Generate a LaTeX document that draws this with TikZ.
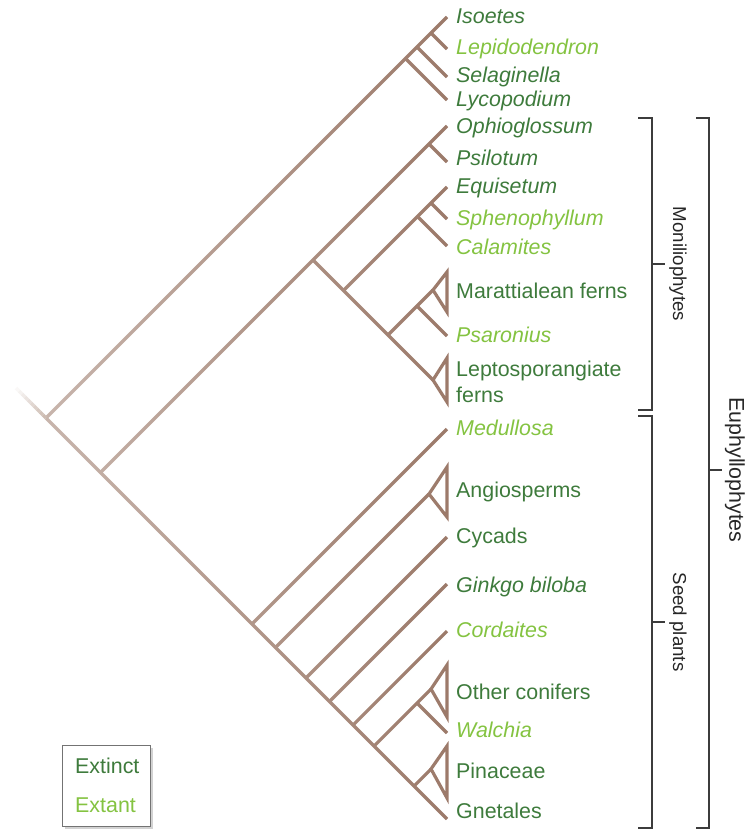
\documentclass[tikz,border=0pt]{standalone}
\usepackage{fontspec}
\setmainfont{Liberation Sans}
\usetikzlibrary{calc,fadings,shadows}
\definecolor{branch}{HTML}{9C7A6A}
\definecolor{branchL}{HTML}{CDBCB2}
\definecolor{extinct}{HTML}{3E7B3C}
\definecolor{extant}{HTML}{84C341}
\definecolor{brace}{HTML}{3C3C3C}
\tikzfading[name=rootfade, left color=transparent!50, right color=transparent!100]

\begin{document}
\begin{tikzpicture}[x=1pt, y=-1pt,
  br/.style={draw=branch, line width=3.2pt},
  lab/.style={anchor=base west, inner sep=0pt, font=\fontsize{21.4}{26}\selectfont},
  ext/.style={lab, text=extinct},
  exa/.style={lab, text=extant},
  grp/.style={rotate=-90, inner sep=0pt, text=black!85, font=\fontsize{18.7}{22}\selectfont},
  brk/.style={draw=brace, line width=1.2pt}]
\useasboundingbox (0,0) rectangle (745,833);

\coordinate (R0) at (16,388);
\coordinate (R) at (46,418);
\coordinate (E) at (100.5,472.5);
\coordinate (Tiso) at (447,17);
\coordinate (Clep) at (431,33);
\coordinate (Tlep) at (447,49);
\coordinate (Csel) at (417,47);
\coordinate (Tsel) at (447,77);
\coordinate (Clyc) at (405.5,58.5);
\coordinate (Tlyc) at (447,100);
\coordinate (Toph) at (447,126);
\coordinate (Cpsi) at (429,144);
\coordinate (Tpsi) at (447,162);
\coordinate (M) at (313,260);
\coordinate (Q) at (343.5,290.5);
\coordinate (Tequ) at (447,187);
\coordinate (Csph) at (431,203);
\coordinate (Tsph) at (447,219);
\coordinate (Ccal) at (417.5,216.5);
\coordinate (Tcal) at (447,246);
\coordinate (K) at (388,335);
\coordinate (Amar) at (433,290);
\coordinate (Umar) at (447,272);
\coordinate (Dmar) at (447,312);
\coordinate (Cpsa) at (417,306);
\coordinate (Tpsa) at (447,336);
\coordinate (Alep) at (433,380);
\coordinate (Ulep) at (447,358);
\coordinate (Dlep) at (447,402);
\coordinate (S1) at (252,624);
\coordinate (Tmed) at (447,429);
\coordinate (S2) at (275.5,647.5);
\coordinate (Aang) at (429,494);
\coordinate (Uang) at (447,467);
\coordinate (Dang) at (447,517);
\coordinate (S3) at (306,678);
\coordinate (Tcyc) at (447,537);
\coordinate (S4) at (329.5,701.5);
\coordinate (Tgin) at (447,584);
\coordinate (S5) at (353,725);
\coordinate (Tcor) at (447,631);
\coordinate (S6) at (374,746);
\coordinate (Aoth) at (431,689);
\coordinate (Uoth) at (447,665);
\coordinate (Doth) at (447,717);
\coordinate (Cwal) at (417,703);
\coordinate (Twal) at (447,733);
\coordinate (S7) at (414,786);
\coordinate (Apin) at (431,769);
\coordinate (Upin) at (447,746);
\coordinate (Dpin) at (447,798);
\coordinate (Tgne) at (447,819);

\draw[br] (R) -- (Tiso);
\draw[br] (Clep) -- (Tlep);
\draw[br] (Csel) -- (Tsel);
\draw[br] (Clyc) -- (Tlyc);
\draw[br] (R) -- (E) -- (Tgne);
\draw[br] (E) -- (Toph);
\draw[br] (Cpsi) -- (Tpsi);
\draw[br] (M) -- (Alep);
\draw[br] (Alep) -- (Ulep) -- (Dlep) -- cycle;
\draw[br] (Q) -- (Tequ);
\draw[br] (Csph) -- (Tsph);
\draw[br] (Ccal) -- (Tcal);
\draw[br] (K) -- (Amar);
\draw[br] (Amar) -- (Umar) -- (Dmar) -- cycle;
\draw[br] (Cpsa) -- (Tpsa);
\draw[br] (S1) -- (Tmed);
\draw[br] (S2) -- (Aang);
\draw[br] (Aang) -- (Uang) -- (Dang) -- cycle;
\draw[br] (S3) -- (Tcyc);
\draw[br] (S4) -- (Tgin);
\draw[br] (S5) -- (Tcor);
\draw[br] (S6) -- (Aoth);
\draw[br] (Aoth) -- (Uoth) -- (Doth) -- cycle;
\draw[br] (Cwal) -- (Twal);
\draw[br] (S7) -- (Apin);
\draw[br] (Apin) -- (Upin) -- (Dpin) -- cycle;

\fill[white, path fading=rootfade] (0,0) rectangle (447,833);
\foreach \i in {1,...,10}
  \draw[br, draw=branchL!\i0!white] ($(R0)!{(\i-1)/10}!(R)$) -- ($(R0)!{\i/10}!(R)$);

\node[ext] (N1) at (456,23) {\textit{Isoetes}};
\node[exa] (N2) at (456,54) {\textit{Lepidodendron}};
\node[ext] (N3) at (456,82) {\textit{Selaginella}};
\node[ext] (N4) at (456,106) {\textit{Lycopodium}};
\node[ext] (N5) at (456,133) {\textit{Ophioglossum}};
\node[ext] (N6) at (456,165) {\textit{Psilotum}};
\node[ext] (N7) at (456,193) {\textit{Equisetum}};
\node[exa] (N8) at (456,225) {\textit{Sphenophyllum}};
\node[exa] (N9) at (456,254) {\textit{Calamites}};
\node[ext] (N10) at (456,298) {Marattialean ferns};
\node[exa] (N11) at (456,342) {\textit{Psaronius}};
\node[ext, anchor=west, align=left] (N12) at (456,381.7) {Leptosporangiate\\ferns};
\node[exa] (N13) at (456,435) {\textit{Medullosa}};
\node[ext] (N14) at (456,497) {Angiosperms};
\node[ext] (N15) at (456,543) {Cycads};
\node[ext] (N16) at (456,592) {\textit{Ginkgo biloba}};
\node[exa] (N17) at (456,637) {\textit{Cordaites}};
\node[ext] (N18) at (456,699) {Other conifers};
\node[exa] (N19) at (456,737) {\textit{Walchia}};
\node[ext] (N20) at (456,778) {Pinaceae};
\node[ext] (N21) at (456,818) {Gnetales};

\coordinate (Ma) at (638,118);
\coordinate (Mb) at (652,118);
\coordinate (Mc) at (652,410);
\coordinate (Md) at (638,410);
\coordinate (Mt) at (652,264);
\coordinate (Mu) at (665,264);
\coordinate (Sa) at (638,416);
\coordinate (Sb) at (652,416);
\coordinate (Sc) at (652,828);
\coordinate (Sd) at (638,828);
\coordinate (St) at (652,622);
\coordinate (Su) at (665,622);
\coordinate (Ea) at (696,118);
\coordinate (Eb) at (709,118);
\coordinate (Ec) at (709,828);
\coordinate (Ed) at (696,828);
\coordinate (Et) at (709,470);
\coordinate (Eu) at (722,470);
\draw[brk] (Ma) -- (Mb) -- (Mc) -- (Md);
\draw[brk] (Mt) -- (Mu);
\draw[brk] (Sa) -- (Sb) -- (Sc) -- (Sd);
\draw[brk] (St) -- (Su);
\draw[brk] (Ea) -- (Eb) -- (Ec) -- (Ed);
\draw[brk] (Et) -- (Eu);
\node[grp] (G1) at (678,264) {Moniliophytes};
\node[grp] (G2) at (678,622) {Seed plants};
\node[grp, font=\fontsize{21.4}{26}\selectfont] (G3) at (735,470) {Euphyllophytes};

\node[draw=black!55, line width=1pt, fill=white, minimum width=88pt, minimum height=81pt,
  drop shadow={shadow xshift=2.5pt, shadow yshift=-2.5pt, opacity=0.35}] (leg) at (106,785.5) {};
\node[ext] (L1) at (75,773) {Extinct};
\node[exa] (L2) at (75,812) {Extant};
\end{tikzpicture}
\end{document}
